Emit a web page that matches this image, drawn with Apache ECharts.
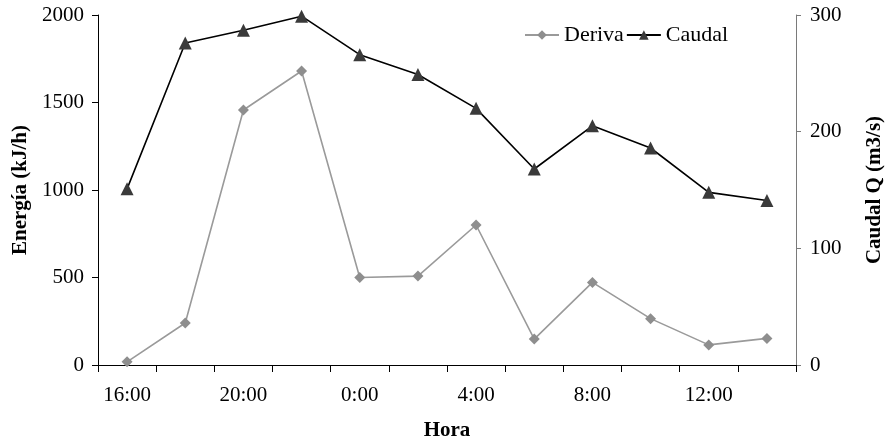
<!DOCTYPE html>
<html>
<head>
<meta charset="utf-8">
<title>Energía y caudal por hora</title>
<script src="https://cdn.jsdelivr.net/npm/echarts@6/dist/echarts.min.js"></script>
<style>
  html, body { margin: 0; padding: 0; background: #ffffff; }
  #chart { width: 893px; height: 446px; }
</style>
</head>
<body>
<div id="chart"></div>
<script>
// Hourly sampling, every two hours from 16:00 to 14:00 of the next day
var horas = ['16:00', '18:00', '20:00', '22:00', '0:00', '2:00', '4:00', '6:00', '8:00', '10:00', '12:00', '14:00'];
// Drift energy (kJ/h), left axis
var deriva = [18, 240, 1457, 1680, 500, 508, 800, 148, 472, 265, 115, 152];
// Discharge Q (m3/s), right axis
var caudal = [151, 276, 287, 299, 266, 249, 220, 168, 205, 186, 148, 141];

var FONT = 'Liberation Serif';
var chart = echarts.init(document.getElementById('chart'), null, { renderer: 'canvas' });

// plain integers, no thousands separator
function plain(v) { return String(v); }

chart.setOption({
  backgroundColor: '#ffffff',
  animation: false,
  textStyle: { fontFamily: FONT, color: '#000' },
  grid: { left: 98, right: 94, top: 15, bottom: 74, containLabel: false },
  legend: {
    left: 519,
    top: 19,
    itemWidth: 34,
    itemHeight: 12,
    itemGap: 2,
    textStyle: { fontFamily: FONT, fontSize: 22, color: '#000' },
    data: ['Deriva', 'Caudal']
  },
  xAxis: {
    type: 'category',
    data: horas,
    boundaryGap: true,
    name: 'Hora',
    nameLocation: 'middle',
    nameGap: 55,
    nameTextStyle: { fontFamily: FONT, fontSize: 21, fontWeight: 'bold', color: '#000' },
    axisLine: { lineStyle: { color: '#000', width: 1 } },
    axisTick: { show: true, interval: 0, length: 7, inside: false, lineStyle: { color: '#000' } },
    axisLabel: { interval: 1, margin: 20, fontFamily: FONT, fontSize: 21, color: '#000' },
    splitLine: { show: false }
  },
  yAxis: [
    {
      type: 'value',
      min: 0,
      max: 2000,
      interval: 500,
      position: 'left',
      name: 'Energía (kJ/h)',
      nameLocation: 'middle',
      nameRotate: 90,
      nameGap: 64,
      nameTextStyle: { fontFamily: FONT, fontSize: 21, fontWeight: 'bold', color: '#000' },
      axisLine: { show: true, lineStyle: { color: '#000', width: 1 } },
      axisTick: { show: true, length: 6, lineStyle: { color: '#000' } },
      axisLabel: { margin: 14, fontFamily: FONT, fontSize: 21, color: '#000', formatter: plain },
      splitLine: { show: false }
    },
    {
      type: 'value',
      min: 0,
      max: 300,
      interval: 100,
      position: 'right',
      name: 'Caudal Q (m3/s)',
      nameLocation: 'middle',
      nameRotate: 90,
      nameGap: 68,
      nameTextStyle: { fontFamily: FONT, fontSize: 21, fontWeight: 'bold', color: '#000' },
      axisLine: { show: true, lineStyle: { color: '#7a7a7a', width: 1 } },
      axisTick: { show: true, length: 5, lineStyle: { color: '#7a7a7a' } },
      axisLabel: { margin: 14, fontFamily: FONT, fontSize: 21, color: '#000', formatter: plain },
      splitLine: { show: false }
    }
  ],
  series: [
    {
      name: 'Deriva',
      type: 'line',
      yAxisIndex: 0,
      data: deriva,
      symbol: 'diamond',
      symbolSize: 11,
      showAllSymbol: true,
      lineStyle: { color: '#9a9a9a', width: 1.6 },
      itemStyle: { color: '#8e8e8e', borderWidth: 0 },
      z: 2
    },
    {
      name: 'Caudal',
      type: 'line',
      yAxisIndex: 1,
      data: caudal,
      symbol: 'triangle',
      symbolSize: 13,
      showAllSymbol: true,
      lineStyle: { color: '#000000', width: 1.6 },
      itemStyle: { color: '#3a3a3a', borderWidth: 0 },
      z: 3
    }
  ]
});
</script>
</body>
</html>
